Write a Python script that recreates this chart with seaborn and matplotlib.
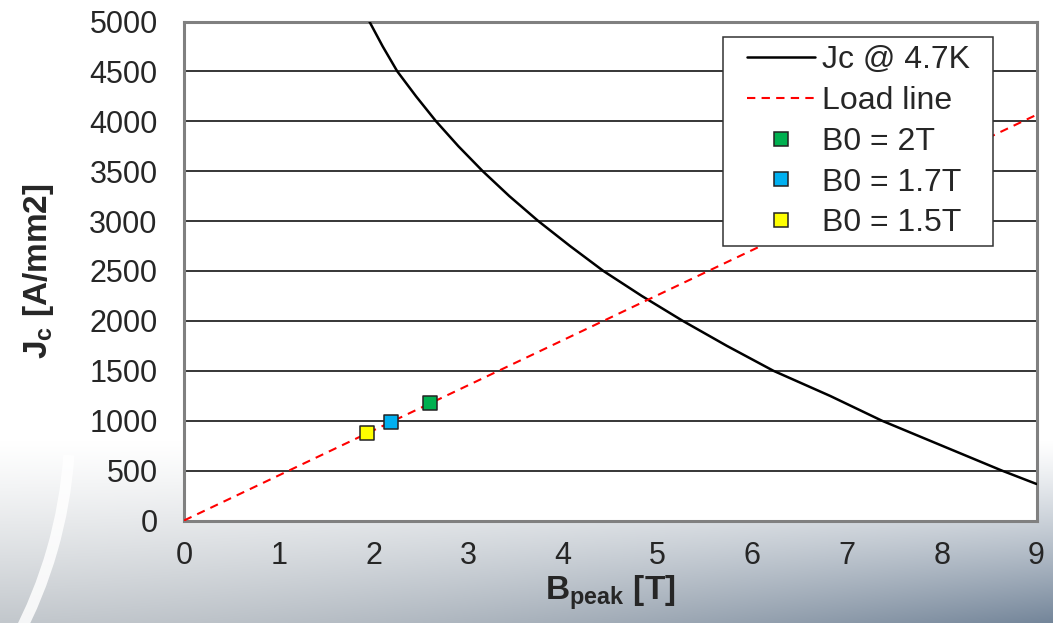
import numpy as np
import pandas as pd
import matplotlib
matplotlib.use("Agg")
import matplotlib.pyplot as plt
from matplotlib.patches import Arc
from matplotlib.lines import Line2D
from matplotlib.legend_handler import HandlerLine2D
import seaborn as sns

# ---- data ----
jc_b = [1.957, 2.098, 2.252, 2.450, 2.661, 2.897, 3.154, 3.435, 3.741, 4.076,
        4.428, 4.833, 5.266, 5.731, 6.223, 6.822, 7.368, 7.983, 8.635, 9.0]
jc_j = [5000, 4750, 4500, 4250, 4000, 3750, 3500, 3250, 3000, 2750,
        2500, 2250, 2000, 1750, 1500, 1248, 1000, 757, 500, 366]

load_b = [0, 9]
load_j = [0, 4065]

pt_labels = ["B0 = 2T", "B0 = 1.7T", "B0 = 1.5T"]
pt_b = [2.598, 2.189, 1.929]
pt_j = [1178, 990, 874]
pt_colors = ["#00b050", "#00b0f0", "#ffff00"]

xticks = list(range(0, 10))
yticks = list(range(0, 5001, 500))

sns.set_style("white")
plt.rcParams["font.family"] = ["Liberation Sans", "DejaVu Sans"]
plt.rcParams["mathtext.fontset"] = "custom"
plt.rcParams["mathtext.rm"] = "Liberation Sans"
plt.rcParams["mathtext.bf"] = "Liberation Sans:bold"

fig = plt.figure(figsize=(10.53, 6.23), dpi=100)

# slide-like background
bg = fig.add_axes([0, 0, 1, 1], zorder=-10)
H, W = 623, 1053
yy, xx = np.mgrid[0:H, 0:W]
t = np.clip((yy - 440) / (H - 440), 0, 1) ** 1.2
hx = xx / W
c_top = np.array([1.0, 1.0, 1.0])
c_bl = np.array([0.76, 0.78, 0.80])
c_br = np.array([0.45, 0.52, 0.60])
wgt = hx[..., None] ** 1.6
c_bot = c_bl[None, None, :] * (1 - wgt) + c_br[None, None, :] * wgt
img = c_top[None, None, :] * (1 - t[..., None]) + c_bot * t[..., None]
bg.imshow(img, extent=[0, W, 0, H], origin="upper", aspect="auto")
bg.add_patch(Arc((-390, 200), 920, 920, theta1=-28, theta2=-4, color="white", lw=8, alpha=0.85))
bg.set_xlim(0, W)
bg.set_ylim(0, H)
bg.axis("off")

ax = fig.add_axes([184 / 1053, 1 - 520.5 / 623, (1036.5 - 184) / 1053, (520.5 - 21.5) / 623])
ax.set_facecolor("white")

df_jc = pd.DataFrame({"B": jc_b, "J": jc_j})
df_load = pd.DataFrame({"B": load_b, "J": load_j})
df_pts = pd.DataFrame({"B": pt_b, "J": pt_j, "label": pt_labels})

for yv in yticks[1:]:
    ax.axhline(yv, color="black", lw=1.1, zorder=1)

sns.lineplot(data=df_jc, x="B", y="J", ax=ax, color="black", lw=1.8, label="Jc @ 4.7K",
             sort=False, estimator=None, zorder=3)
sns.lineplot(data=df_load, x="B", y="J", ax=ax, color="red", lw=1.5, label="Load line",
             estimator=None, zorder=3)
ax.lines[-1].set_linestyle((0, (4, 3)))
sns.scatterplot(data=df_pts, x="B", y="J", hue="label", palette=pt_colors, ax=ax,
                marker="s", s=105, edgecolor="#222222", linewidth=1.1, zorder=4)

ax.set_xlim(0, 9)
ax.set_ylim(0, 5000)
ax.set_xticks(xticks)
ax.set_yticks(yticks)
ax.tick_params(axis="both", labelsize=22, length=7, width=1.2, color="#666666",
               direction="out")
ax.tick_params(axis="y", pad=12)
ax.tick_params(axis="x", pad=8)
for s in ax.spines.values():
    s.set_color("#808080")
    s.set_linewidth(2.2)

ax.set_xlabel(r"$\mathbf{B}_{\mathbf{peak}}$ [T]", fontsize=24, fontweight="bold", labelpad=1)
ax.set_ylabel(r"$\mathbf{J}_{\mathbf{c}}$ [A/mm2]", fontsize=24, fontweight="bold", labelpad=24)

handles, labels = ax.get_legend_handles_labels()
x0 = (722.5 - 184) / 852.5
x1 = (993 - 184) / 852.5
ytop = (520.5 - 37) / 499
leg = ax.legend(handles, labels, loc="upper left",
                bbox_to_anchor=(x0, ytop - 0.5, x1 - x0, 0.5), mode="expand",
                fontsize=23, frameon=True, fancybox=False, edgecolor="#333333",
                framealpha=1, handlelength=2.63, handletextpad=0.25, labelspacing=0.34,
                borderpad=0.25, borderaxespad=0, markerscale=1.0,
                handler_map={Line2D: HandlerLine2D(xpad=0.53)})
leg.get_frame().set_linewidth(1.1)

fig.savefig("out.png", dpi=100)
